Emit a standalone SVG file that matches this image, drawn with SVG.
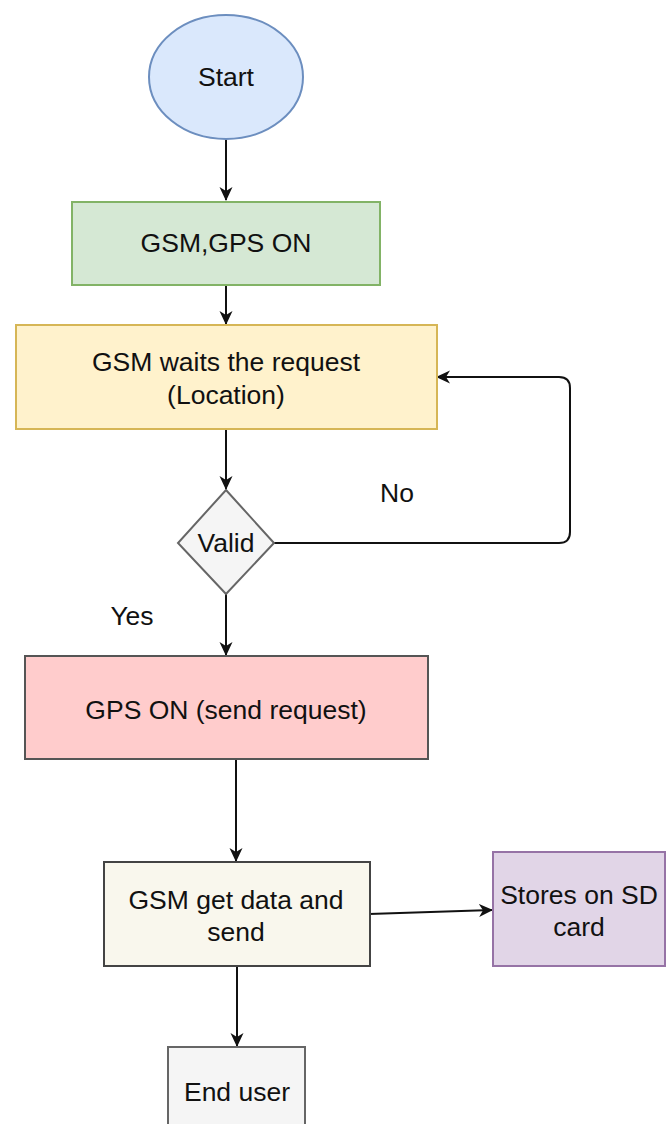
<svg xmlns="http://www.w3.org/2000/svg" width="672" height="1124" viewBox="0 0 672 1124">
<style>
text{font-family:"Liberation Sans",Arial,sans-serif;font-size:26.5px;fill:#111;text-anchor:middle}
.c{fill:none;stroke:#111;stroke-width:2}
.s{stroke-width:2}
</style>
<defs>
<marker id="arr" markerUnits="userSpaceOnUse" markerWidth="16" markerHeight="14" refX="13" refY="7" orient="auto">
<path d="M0,0.5 L14,7 L0,13.5 L4,7 z" fill="#111"/>
</marker>
</defs>
<rect width="672" height="1124" fill="#fff"/>
<g id="connectors">
<path class="c" d="M226,139 V200" marker-end="url(#arr)"/>
<path class="c" d="M226,285 V324" marker-end="url(#arr)"/>
<path class="c" d="M226,429 V489" marker-end="url(#arr)"/>
<path class="c" d="M274,543 H559 Q570,543 570,532 V388 Q570,377 559,377 H437" marker-end="url(#arr)"/>
<path class="c" d="M226,594 V655" marker-end="url(#arr)"/>
<path class="c" d="M236,759 V861" marker-end="url(#arr)"/>
<path class="c" d="M369,914 L492,910" marker-end="url(#arr)"/>
<path class="c" d="M237,966 V1046" marker-end="url(#arr)"/>
</g>
<g id="start">
<ellipse cx="226" cy="77" rx="77" ry="62" fill="#dae8fc" stroke="#6c8ebf" class="s"/>
<text x="226" y="86">Start</text>
</g>
<g id="gsm-gps-on">
<rect x="72" y="202" width="308" height="83" fill="#d5e8d4" stroke="#82b366" class="s"/>
<text x="226" y="252">GSM,GPS ON</text>
</g>
<g id="gsm-waits">
<rect x="16" y="325" width="421" height="104" fill="#fff2cc" stroke="#d6b656" class="s"/>
<text x="226" y="371">GSM waits the request</text>
<text x="226" y="404">(Location)</text>
</g>
<g id="valid">
<polygon points="226,490 274,543 226,594 178,543" fill="#f5f5f5" stroke="#666" class="s"/>
<text x="226" y="552">Valid</text>
</g>
<g id="labels">
<text x="397" y="502">No</text>
<text x="132" y="625">Yes</text>
</g>
<g id="gps-on-send">
<rect x="25" y="656" width="403" height="103" fill="#ffcccc" stroke="#555" class="s"/>
<text x="226" y="719">GPS ON (send request)</text>
</g>
<g id="gsm-get-data">
<rect x="104" y="862" width="266" height="104" fill="#f9f7ed" stroke="#444" class="s"/>
<text x="236" y="909">GSM get data and</text>
<text x="236" y="941">send</text>
</g>
<g id="stores-sd">
<rect x="493" y="852" width="172" height="114" fill="#e1d5e7" stroke="#9673a6" class="s"/>
<text x="579" y="904">Stores on SD</text>
<text x="579" y="936">card</text>
</g>
<g id="end-user">
<rect x="168" y="1047" width="137" height="100" fill="#f5f5f5" stroke="#666" class="s"/>
<text x="237" y="1101">End user</text>
</g>
</svg>
